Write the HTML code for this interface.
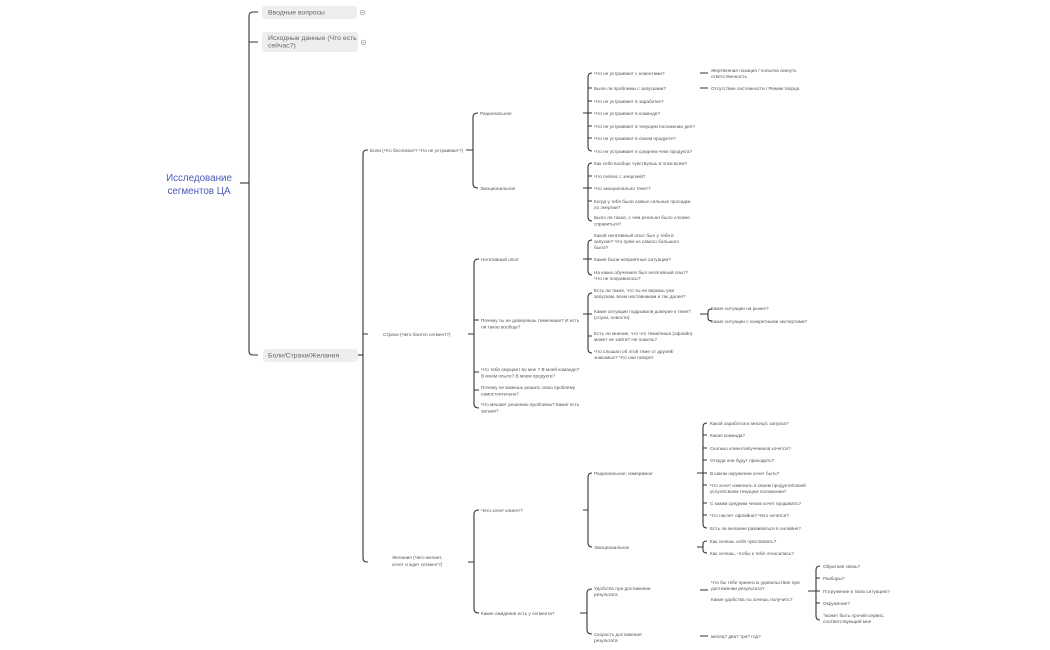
<!DOCTYPE html>
<html><head><meta charset="utf-8"><style>
html,body{margin:0;padding:0;background:#fff;}
svg{display:block;}
text{font-family:"Liberation Sans","Noto Sans CJK SC",sans-serif;font-size:4.7px;fill:#555;}
.b{font-size:6.8px;fill:#666;}
.r{font-size:9.8px;fill:#4a5bc0;}
path{fill:none;stroke:#333;stroke-width:1.1;}
</style></head><body>
<svg width="1050" height="650" viewBox="0 0 1050 650" xmlns="http://www.w3.org/2000/svg">
<!-- root -->
<text class="r" x="199" y="181" text-anchor="middle">Исследование</text>
<text class="r" x="199" y="194" text-anchor="middle">сегментов ЦА</text>
<path d="M240 183 H249"/>
<path d="M258 12 H253 Q249 12 249 16 V351 Q249 355 253 355 H258 M249 42 H258"/>
<!-- level1 boxes -->
<rect x="262" y="6" width="95" height="13" rx="3" fill="#eeeeee"/>
<text class="b" x="268" y="14.5">Вводные вопросы</text>
<circle cx="362.5" cy="12.5" r="2.3" fill="#fff" stroke="#888" stroke-width="0.6"/>
<path d="M361.3 12.5 H363.7" style="stroke:#888;stroke-width:0.6"/>
<rect x="262" y="32" width="96" height="20" rx="3" fill="#eeeeee"/>
<text class="b" x="268" y="40">Исходные данные (Что есть</text>
<text class="b" x="268" y="47.5">сейчас?)</text>
<circle cx="363.5" cy="42.5" r="2.3" fill="#fff" stroke="#888" stroke-width="0.6"/>
<path d="M362.3 42.5 H364.7" style="stroke:#888;stroke-width:0.6"/>
<rect x="263" y="349" width="95" height="13" rx="3" fill="#eeeeee"/>
<text class="b" x="268" y="357.5">Боли/Страхи/Желания</text>
<path d="M358 355 H363"/>
<path d="M368 150 H367 Q363 150 363 154 V558 Q363 562 367 562 H368 M363 334 H368"/>
<!-- level2 -->
<text x="370" y="152">Боли (Что  беспокоит? Что не устраивает?)</text>
<text x="383" y="336">Страхи (Чего боится сегмент?)</text>
<text x="392" y="559">Желания (Чего желает,</text>
<text x="392" y="566">хочет и ждет сегмент?)</text>
<!-- Боли -->
<path d="M466 150 H473 M478 113 Q473 113 473 117 V184 Q473 188 478 188"/>
<text x="480" y="115">Рациональное</text>
<text x="480" y="190">Эмоциональное</text>
<path d="M583 113 H592 M592 73 Q588 73 588 77 V147 Q588 151 592 151 M588 88 H592 M588 101 H592 M588 126 H592 M588 138 H592"/>
<text x="594" y="75">Что не устраивает с клиентами?</text>
<text x="594" y="90">Были ли проблемы с запусками?</text>
<text x="594" y="103">Что не устраивает в заработке?</text>
<text x="594" y="115">Что не устраивает в команде?</text>
<text x="594" y="128">Что не устраивает в текущем положении дел?</text>
<text x="594" y="140">Что не устраивает в своем продукте?</text>
<text x="594" y="153">Что не устраивает в среднем чеке продукта?</text>
<path d="M700 73 H708 M700 88 H708"/>
<text x="711" y="72">Жертвенная позиция / попытка скинуть</text>
<text x="711" y="78">ответственность</text>
<text x="711" y="90">Отсутствие системности / Режим творца</text>
<path d="M583 188 H592 M592 163 Q588 163 588 167 V217 Q588 221 592 221 M588 176 H592 M588 201 H592"/>
<text x="594" y="165">Как себя вообще чувствуешь в этом всем?</text>
<text x="594" y="178">Что сейчас с энергией?</text>
<text x="594" y="190">Что эмоционально тянет?</text>
<text x="594" y="203">Когда у тебя были самые сильные просадки</text>
<text x="594" y="209">по энергии?</text>
<text x="594" y="219">Было ли такое, с чем реально было сложно</text>
<text x="594" y="225.5">справиться?</text>
<!-- Страхи -->
<path d="M468 334 H474 M479 259 Q474 259 474 263 V404 Q474 408 479 408 M474 320 H479 M474 372 H479 M474 390 H479"/>
<text x="481" y="261">Негативный опыт</text>
<text x="481" y="322">Почему ты не доверяешь теме/нише? И есть</text>
<text x="481" y="328.5">ли такое вообще?</text>
<text x="481" y="371">Что тебя смущает во мне ? В моей команде?</text>
<text x="481" y="377.5">В моем опыте? В моем продукте?</text>
<text x="481" y="389">Почему не можешь решить свою проблему</text>
<text x="481" y="395.5">самостоятельно?</text>
<text x="481" y="406">Что мешает решению проблемы? Какие есть</text>
<text x="481" y="412.5">затыки?</text>
<path d="M583 259 H592 M592 240 Q588 240 588 244 V271 Q588 275 592 275"/>
<text x="594" y="237">Какой негативный опыт был у тебя в</text>
<text x="594" y="243">запуске? Что прям из самого большого</text>
<text x="594" y="249">было?</text>
<text x="594" y="261">Какие были неприятные ситуации?</text>
<text x="594" y="274">На каких обучениях был негативный опыт?</text>
<text x="594" y="280">Что не понравилось?</text>
<path d="M583 314 H592 M592 293 Q588 293 588 297 V349 Q588 353 592 353 M588 336 H592"/>
<text x="594" y="292">Есть ли такое, что ты не веришь уже</text>
<text x="594" y="298">запускам, всем наставникам и так далее?</text>
<text x="594" y="313">Какие ситуации подрывали доверие к теме?</text>
<text x="594" y="319">(слухи, новости)</text>
<text x="594" y="335">Есть ли мнение, что что тема/ниша (офлайн)</text>
<text x="594" y="341">может не зайти? Не помочь?</text>
<text x="594" y="353">Что слышал об этой теме от друзей/</text>
<text x="594" y="359">знакомых? Что они говорят</text>
<path d="M700 314 H708 M712 309 Q708 309 708 312 V318 Q708 321 712 321"/>
<text x="711" y="310">Какие ситуации на рынке?</text>
<text x="711" y="323">Какие ситуации с конкретными экспертами?</text>
<!-- Желания -->
<path d="M468 562 H474 M479 510 Q474 510 474 514 V609 Q474 613 479 613"/>
<text x="481" y="512">Чего хочет клиент?</text>
<text x="481" y="615">Какие ожидания есть у сегмента?</text>
<path d="M583 510 H588 M592 473 Q588 473 588 477 V543 Q588 547 592 547"/>
<text x="594" y="475">Рациональное, измеримое</text>
<text x="594" y="549">Эмоциональное</text>
<path d="M697 473 H707 M707 423 Q703 423 703 427 V524 Q703 528 707 528 M703 435 H707 M703 448 H707 M703 460 H707 M703 485 H707 M703 503 H707 M703 515 H707"/>
<text x="710" y="425">Какой заработок в месяц/с запуска?</text>
<text x="710" y="437">Какая команда?</text>
<text x="710" y="450">Сколько клиентов/учеников хочется?</text>
<text x="710" y="462">Откуда они будут приходить?</text>
<text x="710" y="475">В каком окружении хочет быть?</text>
<text x="710" y="487">Что хочет изменить в своем продукте/своей</text>
<text x="710" y="493">услуге/своем текущем положении?</text>
<text x="710" y="505">С каким средним чеком хочет продавать?</text>
<text x="710" y="517">Что насчет офлайна? Чего хочется?</text>
<text x="710" y="530">Есть ли желание развиваться в онлайне?</text>
<path d="M697 547 H703 M707 541 Q703 541 703 544 V550 Q703 553 707 553"/>
<text x="710" y="543">Как хочешь себя чувствовать?</text>
<text x="710" y="555">Как хочешь, чтобы к тебе относились?</text>
<path d="M580 613 H587 M592 589 Q587 589 587 593 V630 Q587 634 592 634"/>
<text x="594" y="590">Удобство при достижении</text>
<text x="594" y="596">результата</text>
<text x="594" y="636">Скорость достижения</text>
<text x="594" y="642">результата</text>
<path d="M700 590 H708 M700 636 H708"/>
<text x="711" y="584">Что бы тебе принесло удовольствие при</text>
<text x="711" y="590">достижении результата?</text>
<text x="711" y="601">Какие удобства ты хочешь получить?</text>
<text x="711" y="638">месяц? два? три? год?</text>
<path d="M808 591 H820 M820 566 Q816 566 816 570 V616 Q816 620 820 620 M816 578 H820 M816 603 H820"/>
<text x="823" y="568">Обратная связь?</text>
<text x="823" y="580">Разборы?</text>
<text x="823" y="593">Погружение в твою ситуацию?</text>
<text x="823" y="605">Окружение?</text>
<text x="823" y="617">"может быть прочий сервис,</text>
<text x="823" y="623">соответствующий мне</text>
</svg>
</body></html>
